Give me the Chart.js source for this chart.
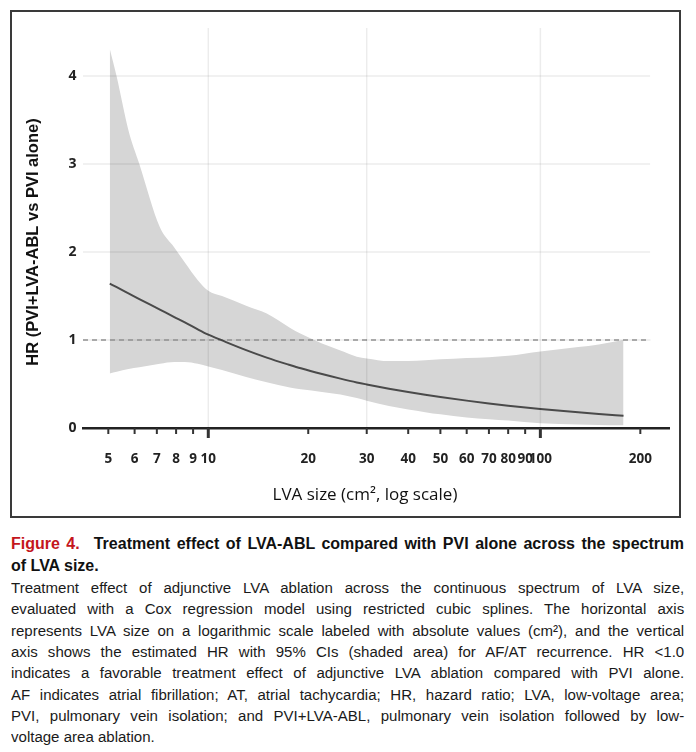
<!DOCTYPE html>
<html>
<head>
<meta charset="utf-8">
<script src="https://cdn.jsdelivr.net/npm/chart.js@4.4.1/dist/chart.umd.min.js"></script>
<style>
  body { margin: 0; background: #fff; width: 696px; height: 752px; position: relative; overflow: hidden; }
  #box { position: absolute; left: 10px; top: 10px; width: 667px; height: 504px; border: 2px solid #3a3a3a; }
  #wrap { position: absolute; left: 0; top: 0; width: 667px; height: 504px; }
  .cap { position: absolute; left: 11px; width: 694px; font-family: "Liberation Sans", Arial, sans-serif;
         font-size: 15.5px; color: #1a1a1a; transform-origin: 0 0; transform: scaleX(0.97);
         text-align: justify; text-align-last: justify; }
  .cap.last { text-align-last: left; }
  .cap.ttl { font-weight: bold; color: #111; font-size: 16px; width: 673px; transform: none; }
  .red { color: #c4161c; margin-right: 14px; }
</style>
</head>
<body>
<div id="box"><div id="wrap"><canvas id="chart"></canvas></div></div>
<div id="caption"></div>

<script>
// LVA size (cm2) sample points along the spline curve
const LVA      = [5.05, 5.3, 5.75, 6.2, 7.15, 7.9, 8.5, 9.3, 10, 11, 13, 15, 17.6, 19, 22, 25, 28, 30, 35, 40, 45, 50, 60, 70, 80, 100, 130, 150, 178];
// estimated hazard ratio
const HR       = [1.64, 1.60, 1.53, 1.465, 1.345, 1.26, 1.20, 1.12, 1.06, 0.995, 0.885, 0.80, 0.716, 0.678, 0.613, 0.561, 0.518, 0.495, 0.447, 0.409, 0.378, 0.352, 0.311, 0.279, 0.254, 0.217, 0.178, 0.159, 0.138];
// 95% CI bounds
const CI_UPPER = [4.31, 3.99, 3.38, 3.00, 2.28, 2.05, 1.88, 1.68, 1.56, 1.50, 1.39, 1.30, 1.14, 1.07, 0.96, 0.88, 0.81, 0.79, 0.76, 0.76, 0.77, 0.78, 0.795, 0.805, 0.82, 0.87, 0.92, 0.95, 1.00];
const CI_LOWER = [0.62, 0.64, 0.67, 0.69, 0.73, 0.75, 0.75, 0.73, 0.70, 0.66, 0.58, 0.52, 0.46, 0.44, 0.41, 0.38, 0.34, 0.31, 0.25, 0.21, 0.18, 0.155, 0.12, 0.10, 0.085, 0.055, 0.04, 0.035, 0.03];

const X_TICKS = [5, 6, 7, 8, 9, 10, 20, 30, 40, 50, 60, 70, 80, 90, 100, 200];
const X_MAJOR = [10, 100];
const X_GRID  = [10, 30, 100];
const Y_TICKS = [0, 1, 2, 3, 4];
const X_MIN = 4.195, X_MAX = 244, Y_MIN = 0, Y_MAX = 4.545;
const REF_HR = 1;
const GRID_END = 214;   // horizontal grid / reference line stop here

const X_TITLE = 'LVA size (cm², log scale)';
const Y_TITLE = 'HR (PVI+LVA-ABL vs PVI alone)';

const CAPTION_TITLE = [
  'Treatment effect of LVA-ABL compared with PVI alone across the spectrum',
  'of LVA size.'
];
const CAPTION_BODY = [
  'Treatment effect of adjunctive LVA ablation across the continuous spectrum of LVA size,',
  'evaluated with a Cox regression model using restricted cubic splines. The horizontal axis',
  'represents LVA size on a logarithmic scale labeled with absolute values (cm²), and the vertical',
  'axis shows the estimated HR with 95% CIs (shaded area) for AF/AT recurrence. HR <1.0',
  'indicates a favorable treatment effect of adjunctive LVA ablation compared with PVI alone.',
  'AF indicates atrial fibrillation; AT, atrial tachycardia; HR, hazard ratio; LVA, low-voltage area;',
  'PVI, pulmonary vein isolation; and PVI+LVA-ABL, pulmonary vein isolation followed by low-',
  'voltage area ablation.'
];

// caption text
const cap = document.getElementById('caption');
function addLine(html, top, cls) {
  const d = document.createElement('div');
  d.className = 'cap ' + cls;
  d.style.top = top + 'px';
  d.innerHTML = html;
  cap.appendChild(d);
}
const esc = s => s.replace(/&/g, '&amp;').replace(/</g, '&lt;');
addLine('<span class="red">Figure 4.</span>' + esc(CAPTION_TITLE[0]), 535, 'ttl');
addLine(esc(CAPTION_TITLE[1]), 557, 'ttl last');
CAPTION_BODY.forEach((t, i) => {
  addLine(esc(t), 579 + i * 21.3, i === CAPTION_BODY.length - 1 ? 'last' : '');
});

const pts = arr => LVA.map((x, i) => ({ x: x, y: arr[i] }));

const gridPlugin = {
  id: 'grid',
  // light grid, drawn over the band like in the figure
  afterDatasetsDraw(chart) {
    const { ctx, chartArea, scales: { x, y } } = chart;
    ctx.save();
    ctx.strokeStyle = 'rgba(0,0,0,0.075)';
    ctx.lineWidth = 1.5;
    const xEnd = x.getPixelForValue(GRID_END);
    Y_TICKS.filter(v => v > 0).forEach(v => {
      const py = y.getPixelForValue(v);
      ctx.beginPath(); ctx.moveTo(chartArea.left, py); ctx.lineTo(xEnd, py); ctx.stroke();
    });
    X_GRID.forEach(v => {
      const px = x.getPixelForValue(v);
      ctx.beginPath(); ctx.moveTo(px, chartArea.top); ctx.lineTo(px, chartArea.bottom); ctx.stroke();
    });
    ctx.restore();
  },
  // tick marks under the axis + axis titles
  afterDraw(chart) {
    const { ctx, chartArea, scales: { x } } = chart;
    ctx.save();
    ctx.strokeStyle = '#333';
    X_TICKS.forEach(v => {
      const px = x.getPixelForValue(v);
      const major = X_MAJOR.includes(v);
      ctx.lineWidth = major ? 3 : 2;
      ctx.beginPath();
      ctx.moveTo(px, chartArea.bottom);
      ctx.lineTo(px, chartArea.bottom + (major ? 10 : 6));
      ctx.stroke();
    });

    ctx.textAlign = 'center';
    ctx.textBaseline = 'middle';
    ctx.fillStyle = '#111';
    ctx.font = '17px "Open Sans"';
    ctx.fillText(X_TITLE, 353, 483);

    ctx.font = 'bold 16.5px "Liberation Sans"';
    ctx.translate(21.5, 230);
    ctx.rotate(-Math.PI / 2);
    ctx.fillText(Y_TITLE, 0, 0);
    ctx.restore();
  }
};

const ctx = document.getElementById('chart').getContext('2d');
new Chart(ctx, {
  type: 'line',
  data: {
    datasets: [
      {
        label: 'HR',
        data: pts(HR),
        borderColor: '#4a4a4a',
        borderWidth: 2,
        pointRadius: 0,
        cubicInterpolationMode: 'monotone',
        fill: false,
        order: 0
      },
      {
        label: 'ref',
        data: [{ x: X_MIN, y: REF_HR }, { x: GRID_END, y: REF_HR }],
        borderColor: '#9a9a9a',
        borderWidth: 1.5,
        borderDash: [5, 4],
        pointRadius: 0,
        fill: false,
        order: 1
      },
      {
        label: 'upper',
        data: pts(CI_UPPER),
        borderWidth: 0,
        borderColor: 'rgba(0,0,0,0)',
        backgroundColor: '#d6d6d6',
        pointRadius: 0,
        cubicInterpolationMode: 'monotone',
        fill: '+1',
        order: 2
      },
      {
        label: 'lower',
        data: pts(CI_LOWER),
        borderWidth: 0,
        borderColor: 'rgba(0,0,0,0)',
        pointRadius: 0,
        cubicInterpolationMode: 'monotone',
        fill: false,
        order: 3
      }
    ]
  },
  options: {
    responsive: true,
    maintainAspectRatio: false,
    animation: false,
    layout: { padding: { top: 16, right: 10, left: 0, bottom: 0 } },
    plugins: { legend: { display: false }, tooltip: { enabled: false } },
    scales: {
      x: {
        type: 'logarithmic',
        min: X_MIN,
        max: X_MAX,
        afterBuildTicks: s => { s.ticks = X_TICKS.map(v => ({ value: v })); },
        afterFit: s => { s.height = 88; },
        grid: { display: false, drawTicks: false },
        border: { display: true, color: '#222', width: 2.5 },
        ticks: {
          autoSkip: false, maxRotation: 0, padding: 23,
          color: '#222',
          font: { family: 'Open Sans', weight: 'bold', size: 13.5 },
          callback: v => String(v)
        }
      },
      y: {
        min: Y_MIN,
        max: Y_MAX,
        afterBuildTicks: s => { s.ticks = Y_TICKS.map(v => ({ value: v })); },
        afterFit: s => { s.width = 71; },
        grid: { display: false, drawTicks: false },
        border: { display: false },
        ticks: {
          padding: 6.5,
          color: '#222',
          font: { family: 'Open Sans', weight: 'bold', size: 14 }
        }
      }
    }
  },
  plugins: [gridPlugin]
});
</script>
</body>
</html>
